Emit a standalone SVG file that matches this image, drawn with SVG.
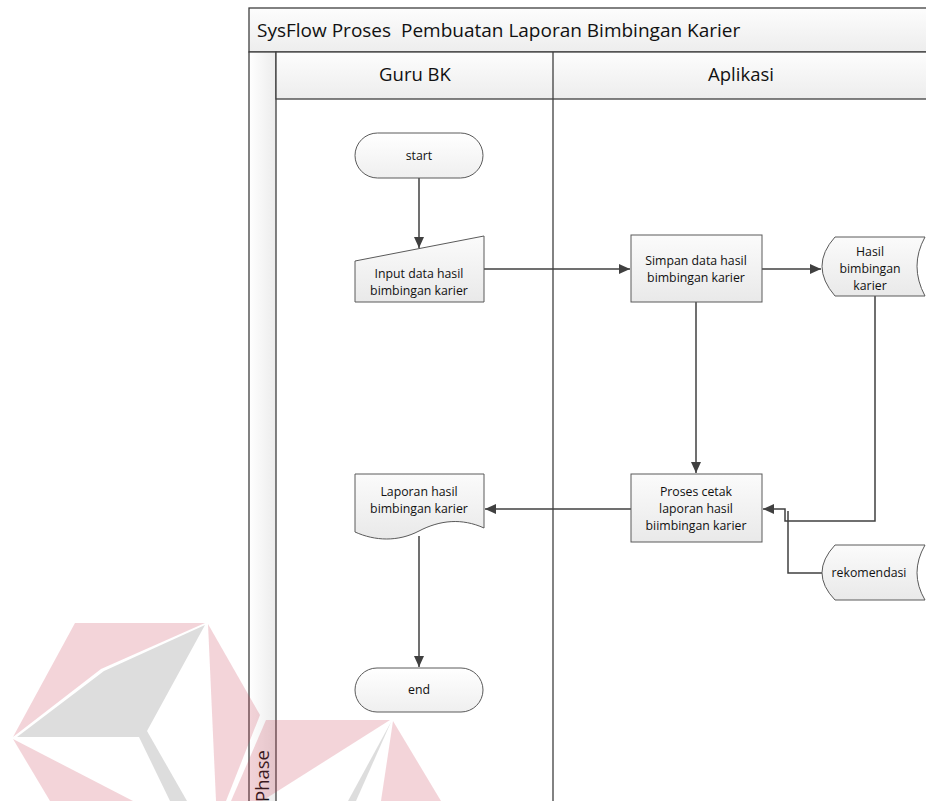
<svg xmlns="http://www.w3.org/2000/svg" width="926" height="801" viewBox="0 0 926 801">
  <defs>
    <linearGradient id="nodeFill" x1="0" y1="0" x2="0" y2="1">
      <stop offset="0" stop-color="#fbfbfb"/>
      <stop offset="1" stop-color="#e9e9e9"/>
    </linearGradient>
    <linearGradient id="termFill" x1="0" y1="0" x2="0" y2="1">
      <stop offset="0" stop-color="#ffffff"/>
      <stop offset="1" stop-color="#efefef"/>
    </linearGradient>
    <linearGradient id="barFill" x1="0" y1="0" x2="0" y2="1">
      <stop offset="0" stop-color="#fdfdfd"/>
      <stop offset="1" stop-color="#ededed"/>
    </linearGradient>
    <linearGradient id="phaseFill" x1="0" y1="0" x2="1" y2="0">
      <stop offset="0" stop-color="#ffffff"/>
      <stop offset="1" stop-color="#ececec"/>
    </linearGradient>
    <marker id="arrow" viewBox="0 0 11 10" refX="11" refY="5" markerWidth="11" markerHeight="10" markerUnits="userSpaceOnUse" orient="auto">
      <path d="M0,0 L11,5 L0,10 Z" fill="#404040"/>
    </marker>
    <style>
      .frame { fill: none; stroke: #3f3f3f; stroke-width: 1.3; }
      .bar { fill: url(#barFill); stroke: #3f3f3f; stroke-width: 1.3; }
      .node { fill: url(#nodeFill); stroke: #5a5a5a; stroke-width: 1; }
      .term { fill: url(#termFill); stroke: #5a5a5a; stroke-width: 1; }
      .edge { fill: none; stroke: #404040; stroke-width: 1.5; marker-end: url(#arrow); }
      .line { fill: none; stroke: #404040; stroke-width: 1.5; }
      .title { font-family: "Open Sans", "Noto Sans", sans-serif; font-size: 19px; fill: #111; white-space: pre; }
      .lane { font-family: "Open Sans", "Noto Sans", sans-serif; font-size: 18.5px; fill: #111; text-anchor: middle; }
      .label { font-family: "Open Sans", "Noto Sans", sans-serif; font-size: 12.3px; fill: #111; text-anchor: middle; }
      .wm-pink { fill: #c83c50; opacity: 0.22; }
      .wm-gray { fill: #555555; opacity: 0.2; }
    </style>
  </defs>

  <rect x="0" y="0" width="926" height="801" fill="#ffffff"/>

  <!-- swimlane frame -->
  <g id="pool">
    <rect class="bar" x="249" y="8" width="690" height="44"/>
    <text class="title" x="257" y="37" xml:space="preserve">SysFlow Proses  Pembuatan Laporan Bimbingan Karier</text>
    <rect x="249" y="52" width="27" height="760" fill="url(#phaseFill)" stroke="#3f3f3f" stroke-width="1.3"/>
    <rect class="bar" x="276" y="52" width="663" height="47"/>
    <line class="frame" x1="553" y1="52" x2="553" y2="812"/>
    <text class="lane" x="415" y="81">Guru BK</text>
    <text class="lane" x="741" y="81">Aplikasi</text>
    <text class="lane" transform="translate(269,776) rotate(-90)">Phase</text>
  </g>

  <!-- connectors -->
  <g id="connectors">
    <path class="edge" d="M419,178 V248"/>
    <path class="edge" d="M484,269 H630"/>
    <path class="edge" d="M762,269 H821"/>
    <path class="edge" d="M696,302 V473"/>
    <path class="edge" d="M875,296 V521 H785 V509 H763"/>
    <path class="line" d="M822,573 H788 V511"/>
    <path class="edge" d="M631,509 H485"/>
    <path class="edge" d="M419,536 V667"/>
  </g>

  <g id="start">
    <rect class="term" x="355" y="133" width="128" height="45" rx="22.5"/>
    <text class="label" x="419" y="160">start</text>
  </g>

  <g id="input-data">
    <path class="node" d="M355,261 L484,236 V302 H355 Z"/>
    <text class="label" x="419" y="278">Input data hasil</text>
    <text class="label" x="419" y="295">bimbingan karier</text>
  </g>

  <g id="simpan-data">
    <rect class="node" x="631" y="235" width="131" height="67"/>
    <text class="label" x="696" y="265">Simpan data hasil</text>
    <text class="label" x="696" y="282">bimbingan karier</text>
  </g>

  <g id="hasil-bimbingan">
    <path class="node" d="M835,237 H925 Q909,266 925,296 H835 Q809,266 835,237 Z"/>
    <text class="label" x="870" y="256">Hasil</text>
    <text class="label" x="870" y="273">bimbingan</text>
    <text class="label" x="870" y="290">karier</text>
  </g>

  <g id="proses-cetak">
    <rect class="node" x="631" y="474" width="131" height="68"/>
    <text class="label" x="696" y="496">Proses cetak</text>
    <text class="label" x="696" y="513">laporan hasil</text>
    <text class="label" x="696" y="530">biimbingan karier</text>
  </g>

  <g id="rekomendasi">
    <path class="node" d="M835,545 H925 Q909,573 925,600 H835 Q809,573 835,545 Z"/>
    <text class="label" x="869" y="577">rekomendasi</text>
  </g>

  <g id="laporan-hasil">
    <path class="node" d="M355,474 H484 V528 C462,518 440,520 419,531 C398,542 375,541 355,532 Z"/>
    <text class="label" x="419" y="496">Laporan hasil</text>
    <text class="label" x="419" y="513">bimbingan karier</text>
  </g>

  <g id="end">
    <rect class="term" x="355" y="668" width="128" height="44" rx="22"/>
    <text class="label" x="419" y="694">end</text>
  </g>

  <!-- faint logo mark across the lower left -->
  <g id="logo-mark">
    <polygon class="wm-pink" points="75,623 205,623 101,669 13,737"/>
    <polygon class="wm-gray" points="205,625 104,671 17,737 139,737 170,801 187,801 147,731"/>
    <polygon class="wm-pink" points="208,624 260,715 226,801 216,801"/>
    <polygon class="wm-pink" points="13,739 133,801 50,801"/>
    <polygon class="wm-pink" points="266,720 390,720 262,801 231,801"/>
    <polygon class="wm-gray" points="391,722 356,801 348,801"/>
    <polygon class="wm-pink" points="393,721 441,801 381,801"/>
  </g>
</svg>
